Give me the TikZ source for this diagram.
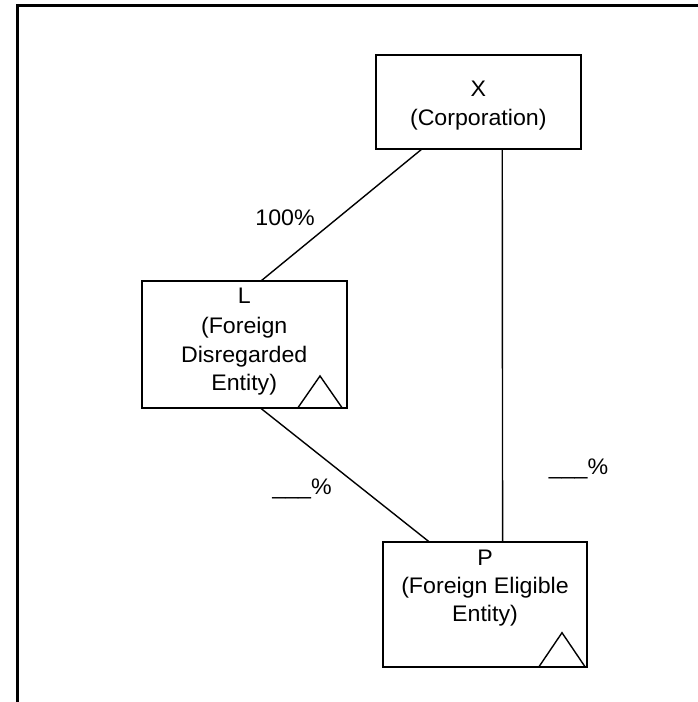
\documentclass[tikz,border=0pt]{standalone}
\usepackage{fontspec}
\setmainfont{Liberation Sans}[FakeStretch=1.03]
\usetikzlibrary{calc}
\begin{document}
\begin{tikzpicture}[x=1pt,y=-1pt,
  box/.style={draw, line width=1.8pt, rectangle, inner sep=0pt, outer sep=0pt},
  lbl/.style={anchor=base, inner sep=0pt, font=\fontsize{22.5}{28}\selectfont},
  link/.style={line width=1.4pt},
  frame/.style={line width=2.7pt, line join=miter},
  tri/.style={line width=1.4pt, line join=miter}]
\useasboundingbox (0,0) rectangle (698,702);
\draw[frame] (17.5,702) -- (17.5,5.5) -- (698,5.5);
% boxes
\node[box, minimum width=204.7pt, minimum height=94pt] (X) at (478.3,102) {};
\node[box, minimum width=205pt, minimum height=126.7pt] (L) at (244.2,344.3) {};
\node[box, minimum width=203.4pt, minimum height=125pt] (P) at (485,604.2) {};
% texts
\node[lbl] (xa) at (478.3,96.7) {X};
\node[lbl] (xb) at (478.3,125) {(Corporation)};
\node[lbl] (la) at (244.2,303.3) {L};
\node[lbl] (lb) at (244.2,333.5) {(Foreign};
\node[lbl] (lc) at (244.2,362) {Disregarded};
\node[lbl] (ld) at (244.2,390) {Entity)};
\node[lbl] (pa) at (485,565) {P};
\node[lbl] (pb) at (485,593.3) {(Foreign Eligible};
\node[lbl] (pc) at (485,621.7) {Entity)};
\node[lbl] (pct1) at (285,225) {100\%};
\node[lbl] (pct2) at (302,494) {\_\_\_\%};
\node[lbl] (pct3) at (578.5,474) {\_\_\_\%};
% connectors
\draw[link] ($(X.south west)+(46,0)$) -- ($(L.north west)+(119.3,0)$);
\draw[link] ($(L.south west)+(118.3,0)$) -- ($(P.north west)+(45.7,0)$);
\draw[link] ($(X.south west)+(126.3,0)$) -- ($(P.north west)+(119.3,0)$);
% triangles
\draw[tri] ($(L.south east)+(-48.7,0)$) -- ($(L.south east)+(-26.7,-31.7)$) -- ($(L.south east)+(-4.7,0)$);
\draw[tri] ($(P.south east)+(-47.7,0)$) -- ($(P.south east)+(-24.7,-34)$) -- ($(P.south east)+(-1.7,0)$) -- cycle;
\end{tikzpicture}
\end{document}
